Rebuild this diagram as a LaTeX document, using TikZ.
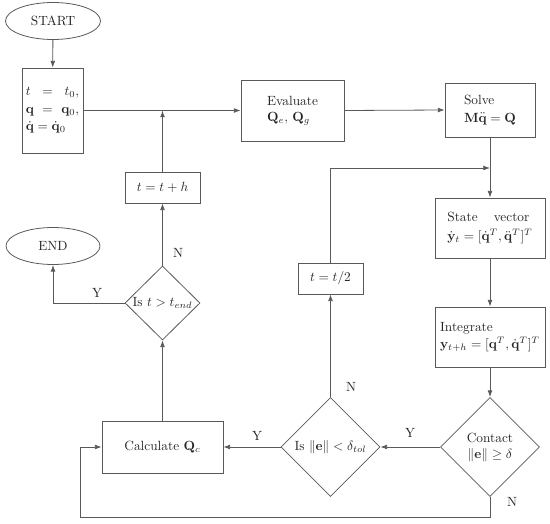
\documentclass[tikz,border=0pt]{standalone}
\usepackage{amsmath,amssymb}
\usetikzlibrary{shapes.geometric,arrows.meta}
\begin{document}
\begin{tikzpicture}[x=0.75pt,y=-0.75pt,
  line width=0.6pt,
  every node/.style={text=black!85},
  box/.style={draw=black!65,rectangle,inner sep=2pt},
  term/.style={draw=black!65,ellipse,inner sep=0pt},
  dec/.style={draw=black!65,diamond,inner sep=0pt,aspect=1},
  conn/.style={draw=black!65},
  arr/.style={draw=black!65,-{Latex[length=5pt,width=3.6pt]}},
  lbl/.style={inner sep=0pt}]
\useasboundingbox (0,0) rectangle (550,524);
% nodes
\node[term,minimum width=71.25pt,minimum height=27.75pt] (start) at (53,21) {START};
\node[term,minimum width=70.5pt,minimum height=27.75pt] (end) at (53,246) {END};
\node[box,minimum width=45.75pt,minimum height=63.75pt,align=left] (init) at (52.5,110.5)
  {\makebox[40pt][s]{$t$ $=$ $t_0,$}\\[1pt]\makebox[40pt][s]{$\mathbf{q}$ $=$ $\mathbf{q}_0,$}\\[1pt]$\dot{\mathbf{q}}=\dot{\mathbf{q}}_0$};
\node[box,minimum width=56.25pt,minimum height=23.25pt] (tth) at (162.5,187.5) {$t=t+h$};
\node[box,minimum width=77.25pt,minimum height=45.75pt,align=left] (eval) at (292.5,110.5)
  {Evaluate\\$\mathbf{Q}_e,\,\mathbf{Q}_g$};
\node[box,minimum width=67.5pt,minimum height=40.5pt,align=left] (solve) at (490,110)
  {Solve\\[1pt]$\mathbf{M}\ddot{\mathbf{q}}=\mathbf{Q}$};
\node[box,minimum width=82.5pt,minimum height=45pt,align=left] (state) at (490,228)
  {\makebox[61.5pt][s]{State vector}\\[2pt]$\dot{\mathbf{y}}_t=[\dot{\mathbf{q}}^T,\ddot{\mathbf{q}}^T]^T$};
\node[box,minimum width=82.5pt,minimum height=45pt,align=left] (integ) at (490,337)
  {Integrate\\[1pt]$\mathbf{y}_{t+h}=[\mathbf{q}^T,\dot{\mathbf{q}}^T]^T$};
\node[dec,minimum width=74.25pt,minimum height=74.25pt,align=center] (contact) at (490,447)
  {Contact\\$\|\mathbf{e}\|\geq\delta$};
\node[dec,minimum width=74.25pt,minimum height=74.25pt] (iee) at (330.5,447)
  {Is $\|\mathbf{e}\|<\delta_{tol}$};
\node[box,minimum width=48.75pt,minimum height=23.25pt] (tt2) at (330.5,278.5) {$t=t/2$};
\node[box,minimum width=90.75pt,minimum height=39pt] (calc) at (162.5,447) {Calculate $\mathbf{Q}_c$};
\node[dec,minimum width=56.25pt,minimum height=55.5pt] (ist) at (162.5,303) {Is $t>t_{end}$};
% coordinates
\coordinate (j1) at (162.5,110.5);
\coordinate (j2) at (490,168);
\coordinate (b1) at (490,517);
\coordinate (b2) at (80,517);
% connectors
\draw[arr] (start) -- (init);
\draw[arr] (init.east) -- (eval.west);
\draw[arr] (tth.north) -- (j1);
\draw[arr] (eval.east) -- (solve.west);
\draw[arr] (solve.south) -- (state.north);
\draw[arr] (tt2.north) |- (j2);
\draw[arr] (state) -- (integ);
\draw[arr] (integ) -- (contact);
\draw[arr] (contact.west) -- (iee.east);
\draw[arr] (iee.north) -- (tt2.south);
\draw[arr] (iee.west) -- (calc.east);
\draw[arr] (calc.north) -- (ist.south);
\draw[arr] (ist.north) -- (tth.south);
\draw[arr] (ist.west) -| (end.south);
\draw[arr] (contact.south) -- (b1) -- (b2) |- (calc.west);
% labels
\node[lbl] (n1) at (178,253) {N};
\node[lbl] (y1) at (97,293) {Y};
\node[lbl] (y2) at (257,436) {Y};
\node[lbl] (y3) at (410,433) {Y};
\node[lbl] (n2) at (351,387) {N};
\node[lbl] (n3) at (512,502) {N};
\end{tikzpicture}
\end{document}
